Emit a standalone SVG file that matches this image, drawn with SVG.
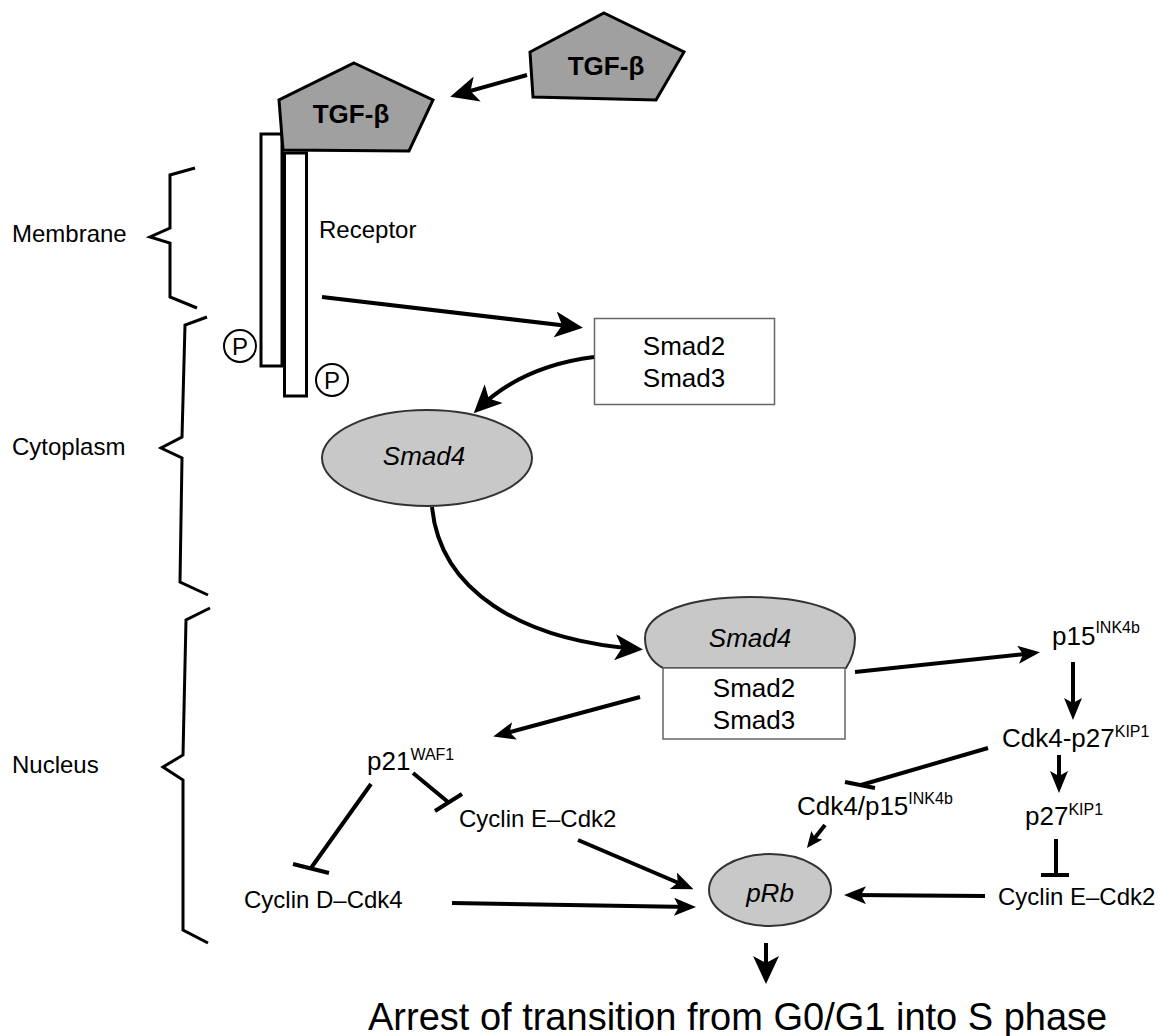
<svg xmlns="http://www.w3.org/2000/svg" width="1160" height="1036" viewBox="0 0 1160 1036">
<style>
text{font-family:"Liberation Sans",Arial,Helvetica,sans-serif;fill:#000}
.lbl{font-size:24px}
.mol{font-size:26px}
.sup{font-size:16px}
.it{font-style:italic;font-size:26px}
.tgf{font-weight:bold;font-size:26px}
.pent{fill:#a0a0a0;stroke:#000;stroke-width:3;stroke-linejoin:miter}
.ell{fill:#c8c8c8;stroke:#333;stroke-width:2}
.box{fill:#fff;stroke:#666;stroke-width:1.5}
.bar{fill:#fff;stroke:#000;stroke-width:3}
.pc{fill:#fff;stroke:#000;stroke-width:2}
.brace{fill:none;stroke:#000;stroke-width:3;stroke-linejoin:miter}
.c{fill:none;stroke:#000;stroke-width:4}
.inh{fill:none;stroke:#000;stroke-width:4}
</style>
<defs>
<marker id="a" viewBox="0 0 22 18" refX="16" refY="9" markerWidth="22" markerHeight="18" markerUnits="userSpaceOnUse" orient="auto"><path d="M0,0 L22,9 L0,18 L5,9 Z" fill="#000"/></marker>
<marker id="aL" viewBox="0 0 28 26" refX="22" refY="13" markerWidth="28" markerHeight="26" markerUnits="userSpaceOnUse" orient="auto"><path d="M0,0 L28,13 L0,26 L7,13 Z" fill="#000"/></marker>
<marker id="as" viewBox="0 0 16 14" refX="11" refY="7" markerWidth="16" markerHeight="14" markerUnits="userSpaceOnUse" orient="auto"><path d="M0,0 L16,7 L0,14 L3,7 Z" fill="#000"/></marker>
</defs>

<g id="braces">
<path class="brace" d="M195,168 L170,175 L170,228 L150,237 L170,243 L170,297 L197,308"/>
<text class="lbl" x="12" y="242">Membrane</text>
<path class="brace" d="M207,317 L185,325 L182,437 L161,448 L182,458 L180,582 L208,595"/>
<text class="lbl" x="12" y="455">Cytoplasm</text>
<path class="brace" d="M210,608 L186,620 L183,755 L163,767 L183,780 L183,930 L208,943"/>
<text class="lbl" x="12" y="773">Nucleus</text>
</g>

<g id="receptor">
<rect class="bar" x="261" y="134" width="21" height="232"/>
<rect class="bar" x="284.5" y="153" width="22" height="243"/>
<circle class="pc" cx="240" cy="346" r="16"/>
<text x="240" y="355" font-size="24" text-anchor="middle">P</text>
<circle class="pc" cx="332" cy="380" r="16"/>
<text x="332" y="389" font-size="24" text-anchor="middle">P</text>
<text class="lbl" x="319" y="238">Receptor</text>
</g>

<g id="tgf-bound">
<polygon class="pent" points="354,63 433,100 409,151 283,150 279,100"/>
<text class="tgf" x="351" y="123" text-anchor="middle">TGF-β</text>
</g>

<g id="tgf-free">
<polygon class="pent" points="604,13 684,52 656,100 533,97 530,52"/>
<text class="tgf" x="606" y="75" text-anchor="middle">TGF-β</text>
</g>

<g id="smad23">
<rect class="box" x="594.5" y="318.5" width="180" height="86"/>
<text class="mol" x="684" y="355" text-anchor="middle">Smad2</text>
<text class="mol" x="684" y="387" text-anchor="middle">Smad3</text>
</g>

<g id="smad4">
<ellipse class="ell" cx="427" cy="458" rx="105" ry="48"/>
<text class="it" x="424" y="465" text-anchor="middle">Smad4</text>
</g>

<g id="complex">
<path class="ell" d="M663,668 C652,662 645,652 645,638 C645,612 692,597 750,597 C808,597 855,612 855,638 C855,652 850,662 846,668 Z"/>
<text class="it" x="750" y="647" text-anchor="middle">Smad4</text>
<rect class="box" x="663" y="668" width="182" height="71"/>
<text class="mol" x="754" y="697" text-anchor="middle">Smad2</text>
<text class="mol" x="754" y="729" text-anchor="middle">Smad3</text>
</g>

<g id="p15"><text class="mol" x="1052" y="645">p15<tspan class="sup" dy="-12">INK4b</tspan></text></g>
<g id="cdk4-p27"><text class="mol" x="1002" y="747">Cdk4-p27<tspan class="sup" dy="-10">KIP1</tspan></text></g>
<g id="p27"><text class="mol" x="1025" y="825">p27<tspan class="sup" dy="-10">KIP1</tspan></text></g>
<g id="cdk4-p15"><text class="mol" x="797" y="815">Cdk4/p15<tspan class="sup" dy="-11">INK4b</tspan></text></g>
<g id="p21"><text class="mol" x="367" y="770">p21<tspan class="sup" dy="-10">WAF1</tspan></text></g>
<g id="cyclinE-left"><text class="lbl" x="459" y="827">Cyclin E–Cdk2</text></g>
<g id="cyclinD"><text class="lbl" x="244" y="908">Cyclin D–Cdk4</text></g>
<g id="cyclinE-right"><text class="lbl" x="998" y="905">Cyclin E–Cdk2</text></g>

<g id="prb">
<ellipse class="ell" cx="770" cy="890" rx="61" ry="36"/>
<text class="it" x="770" y="902" text-anchor="middle">pRb</text>
</g>

<g id="outcome">
<text x="368" y="1030" font-size="38">Arrest of transition from G0/G1 into S phase</text>
</g>

<g id="connectors">
<path class="c" stroke-width="4.5" d="M527,75 L456,95" marker-end="url(#aL)"/>
<path class="c" stroke-width="5.5" d="M322,297 L577,327" marker-end="url(#aL)"/>
<path class="c" d="M594,357 Q522,366 478,409" marker-end="url(#aL)"/>
<path class="c" stroke-width="3" d="M432,507 C440,590 520,640 637,649" marker-end="url(#aL)"/>
<path class="c" d="M855,672 L1034,653" marker-end="url(#a)"/>
<path class="c" d="M640,697 L499,735" marker-end="url(#a)"/>
<path class="c" d="M1073,662 L1073,714" marker-end="url(#a)"/>
<path class="c" d="M1059,755 L1059,787" marker-end="url(#a)"/>
<path class="c" d="M825,825 L810,844" marker-end="url(#as)"/>
<path class="c" d="M578,840 L688,887" marker-end="url(#a)"/>
<path class="c" d="M452,903 L690,907" marker-end="url(#a)"/>
<path class="c" d="M985,896 L850,895" marker-end="url(#a)"/>
<path class="c" stroke-width="6" d="M766,943 L766,978" marker-end="url(#aL)"/>
<path class="inh" d="M413,773 L448,802 M435,811 L462,794"/>
<path class="inh" d="M371,784 L311,868 M293,864 L329,873"/>
<path class="inh" d="M988,748 L861,785 M845,782 L875,788"/>
<path class="inh" d="M1056,839 L1056,875 M1041,875 L1069,875"/>
</g>
</svg>
